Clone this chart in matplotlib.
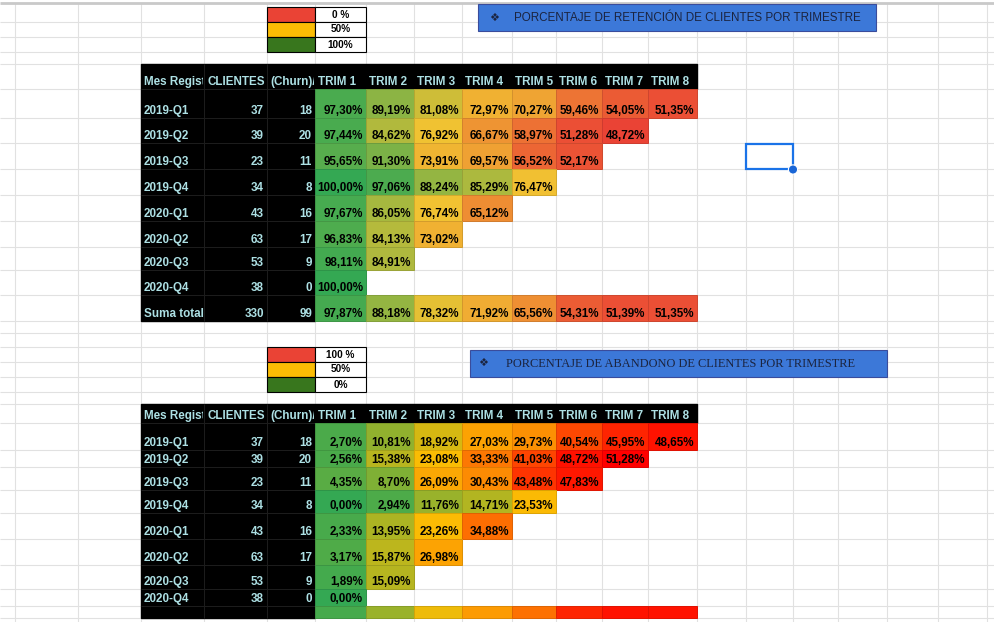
import matplotlib
matplotlib.use("Agg")
import matplotlib.pyplot as plt
import numpy as np
from matplotlib.colors import to_rgb
from matplotlib.patches import Circle, Rectangle
from matplotlib.transforms import Bbox, TransformedBbox

plt.rcParams["font.family"] = ["Liberation Sans", "DejaVu Sans"]

# --- data ---
encabezados = ["Mes Regist", "CLIENTES", "(Churn)/"]
trimestres = ["TRIM 1", "TRIM 2", "TRIM 3", "TRIM 4", "TRIM 5", "TRIM 6", "TRIM 7", "TRIM 8"]
meses = ["2019-Q1", "2019-Q2", "2019-Q3", "2019-Q4", "2020-Q1", "2020-Q2", "2020-Q3", "2020-Q4"]
clientes = [37, 39, 23, 34, 43, 63, 53, 38]
churn = [18, 20, 11, 8, 16, 17, 9, 0]

retencion = [
    [97.30, 89.19, 81.08, 72.97, 70.27, 59.46, 54.05, 51.35],
    [97.44, 84.62, 76.92, 66.67, 58.97, 51.28, 48.72],
    [95.65, 91.30, 73.91, 69.57, 56.52, 52.17],
    [100.00, 97.06, 88.24, 85.29, 76.47],
    [97.67, 86.05, 76.74, 65.12],
    [96.83, 84.13, 73.02],
    [98.11, 84.91],
    [100.00],
]
retencion_total = [97.87, 88.18, 78.32, 71.92, 65.56, 54.31, 51.39, 51.35]
total_clientes = 330
total_churn = 99

abandono = [
    [2.70, 10.81, 18.92, 27.03, 29.73, 40.54, 45.95, 48.65],
    [2.56, 15.38, 23.08, 33.33, 41.03, 48.72, 51.28],
    [4.35, 8.70, 26.09, 30.43, 43.48, 47.83],
    [0.00, 2.94, 11.76, 14.71, 23.53],
    [2.33, 13.95, 23.26, 34.88],
    [3.17, 15.87, 26.98],
    [1.89, 15.09],
    [0.00],
]
# last row of the churn block is coloured but shows no text
abandono_total = [2.13, 11.82, 21.68, 28.08, 34.44, 45.69, 48.61, 48.65]

leyenda_ret = ["0 %", "50%", "100%"]
leyenda_aba = ["100 %", "50%", "0%"]
leyenda_colores = ["#ea4335", "#fbbc04", "#38761d"]

titulo_ret = "PORCENTAJE DE RETENCIÓN DE CLIENTES POR TRIMESTRE"
titulo_aba = "PORCENTAJE DE ABANDONO DE CLIENTES POR TRIMESTRE"

# --- sheet layout (pixels) ---
COLS = [15, 78, 141, 204, 267, 315, 366, 414, 462, 512, 556, 602, 648, 697,
        746, 793, 838, 887, 938, 987]
GRID_ROWS = [21.7, 36.7, 51.7, 64, 89, 118, 143, 169, 195, 221, 247, 270, 295,
             321, 333, 347, 362, 377, 392, 404, 423, 450, 467, 490, 513, 539,
             565, 589, 606, 618]
TOP_ROWS = [64, 89, 118, 143, 169, 195, 221, 247, 270, 295, 321]
BOT_ROWS = [404, 423, 450, 467, 490, 513, 539, 565, 589, 606, 618]
LABEL_COLOR = "#ade0e4"
FS = 8.35


def escala(vals, c_lo, c_mid, c_hi):
    flat = np.concatenate([np.ravel(v) for v in vals])
    lo, mid, hi = flat.min(), np.percentile(flat, 50), flat.max()
    a, b, c = (np.array(to_rgb(x)) for x in (c_lo, c_mid, c_hi))

    def color(v):
        if v <= mid:
            t = (v - lo) / (mid - lo)
            return tuple(a + t * (b - a))
        t = (v - mid) / (hi - mid)
        return tuple(b + t * (c - b))
    return color


def celda_texto(ax, x, y, s, ha="left", color="black", clip=None, size=FS):
    t = ax.text(x, y, s, ha=ha, va="baseline", fontsize=size,
                fontweight="bold", color=color, zorder=6)
    if clip is not None:
        t.set_clip_box(TransformedBbox(Bbox(clip), ax.transData))
        t.set_clip_on(True)
    return t


def pct(v):
    return f"{v:.2f}".replace(".", ",") + "%"


def tabla(ax, filas, valores, total, color, total_texto):
    y = filas
    ax.add_patch(Rectangle((COLS[2], y[0]), COLS[13] - COLS[2], y[1] - y[0],
                           color="black", zorder=3))
    ax.add_patch(Rectangle((COLS[2], y[1]), COLS[5] - COLS[2], y[-1] - y[1],
                           color="black", zorder=3))
    ax.vlines(COLS[3:5], y[0], y[-1], color="#1d1d1d", lw=0.7, zorder=4)
    ax.hlines(y[1:-1], COLS[2], COLS[5], color="#1d1d1d", lw=0.7, zorder=4)

    for j, h in enumerate(encabezados + trimestres):
        x0, x1 = COLS[2 + j], COLS[3 + j]
        celda_texto(ax, x0 + 3, y[1] - 4, h, color=LABEL_COLOR,
                    clip=[[x0, y[0]], [x1 - 1, y[1]]])

    filas_vals = list(valores) + [total]
    for i, fila in enumerate(filas_vals):
        top, bot = y[1 + i], y[2 + i]
        for j, v in enumerate(fila):
            c = color(v)
            edge = tuple(np.array(c) * 0.88)
            ax.add_patch(Rectangle((COLS[5 + j], top), COLS[6 + j] - COLS[5 + j],
                                   bot - top, facecolor=c, edgecolor=edge,
                                   lw=0.7, zorder=4))
            if i < len(valores) or total_texto:
                celda_texto(ax, COLS[6 + j] - 3, bot - 4, pct(v), ha="right")

    for i, mes in enumerate(meses):
        bot = y[2 + i]
        celda_texto(ax, COLS[2] + 3, bot - 4, mes, color=LABEL_COLOR)
        celda_texto(ax, COLS[4] - 3, bot - 4, str(clientes[i]), ha="right", color=LABEL_COLOR)
        celda_texto(ax, COLS[5] - 3, bot - 4, str(churn[i]), ha="right", color=LABEL_COLOR)
    if total_texto:
        bot = y[-1]
        celda_texto(ax, COLS[2] + 3, bot - 4, "Suma total", color=LABEL_COLOR)
        celda_texto(ax, COLS[4] - 3, bot - 4, str(total_clientes), ha="right", color=LABEL_COLOR)
        celda_texto(ax, COLS[5] - 3, bot - 4, str(total_churn), ha="right", color=LABEL_COLOR)


def leyenda(ax, y0, textos):
    for k, (txt, col) in enumerate(zip(textos, leyenda_colores)):
        top = y0 + 15 * k
        ax.add_patch(Rectangle((COLS[4], top), COLS[5] - COLS[4], 15,
                               facecolor=col, edgecolor="black", lw=0.8, zorder=5))
        ax.add_patch(Rectangle((COLS[5], top), COLS[6] - COLS[5], 15,
                               facecolor="white", edgecolor="black", lw=0.8, zorder=5))
        ax.text((COLS[5] + COLS[6]) / 2, top + 7.8, txt, ha="center", va="center",
                fontsize=7.2, fontweight="bold", color="black", zorder=6)


def titulo(ax, x0, y0, x1, y1, texto, family, size, x_texto, x_rombo):
    ax.add_patch(Rectangle((x0, y0), x1 - x0, y1 - y0, facecolor="#3c78d8",
                           edgecolor="#3a4c9c", lw=0.8, zorder=5))
    ym = (y0 + y1) / 2
    ax.text(x_rombo, ym, "\u2756", ha="center", va="center", fontsize=8,
            color="#1b2440", family=["DejaVu Sans"], zorder=6)
    ax.text(x_texto, ym + 0.5, texto, ha="left", va="center", fontsize=size,
            color="#1b2440", family=family, zorder=6)


fig = plt.figure(figsize=(9.95, 6.22), dpi=100)
ax = fig.add_axes([0, 0, 1, 1])
ax.set_xlim(0, 995)
ax.set_ylim(622, 0)
ax.axis("off")

ax.vlines(COLS, 3, 622, color="#e1e1e1", lw=0.8, zorder=1)
ax.hlines(GRID_ROWS, 0, 995, color="#e1e1e1", lw=0.8, zorder=1)
ax.hlines(2.5, 0, 995, color="#c9c9c9", lw=2.0, zorder=1)

color_ret = escala(retencion + [retencion_total], "#ea4335", "#f1c232", "#34a853")
color_aba = escala(abandono + [abandono_total], "#34a853", "#fbbc04", "#ff0000")

tabla(ax, TOP_ROWS, retencion, retencion_total, color_ret, True)
tabla(ax, BOT_ROWS, abandono, abandono_total, color_aba, False)

leyenda(ax, 6.7, leyenda_ret)
leyenda(ax, 346.7, leyenda_aba)

titulo(ax, 478, 4, 876, 31, titulo_ret, ["Liberation Sans", "DejaVu Sans"], 8.4, 514, 494)
titulo(ax, 469.5, 349.5, 886.7, 377, titulo_aba, ["Liberation Serif", "DejaVu Serif"], 8.95, 505.5, 483)

# active cell selection
ax.add_patch(Rectangle((746, 144), 47, 25.3, fill=False, edgecolor="#1a73e8",
                       lw=1.6, zorder=7))
ax.add_patch(Circle((793, 169.5), 4.6, facecolor="#1a66d6", edgecolor="white",
                    lw=0.8, zorder=8))

fig.savefig("out.png", dpi=100)
